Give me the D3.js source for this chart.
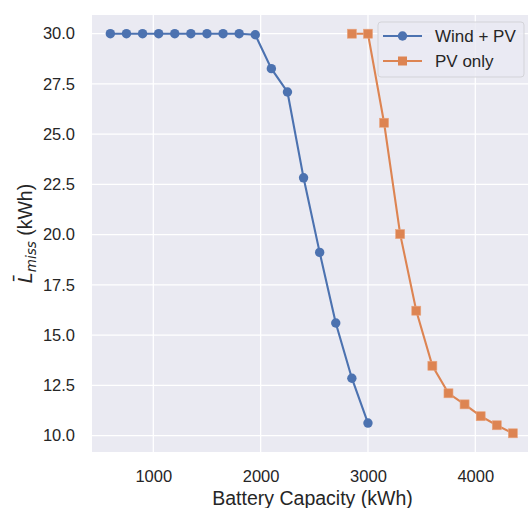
<!DOCTYPE html>
<html>
<head>
<meta charset="utf-8">
<script src="https://cdn.jsdelivr.net/npm/d3@7"></script>
<style>
  body { margin: 0; background: #fff; }
  text { font-family: "Liberation Sans", Arial, sans-serif; fill: #262626; }
</style>
</head>
<body>
<svg id="chart" width="528" height="508"></svg>
<script>
// values
const windX = [600, 750, 900, 1050, 1200, 1350, 1500, 1650, 1800, 1950, 2100, 2250, 2400, 2550, 2700, 2850, 3000];
const windY = [30, 30, 30, 30, 30, 30, 30, 30, 30, 29.95, 28.26, 27.1, 22.83, 19.12, 15.61, 12.86, 10.63];
const pvX = [2850, 3000, 3150, 3300, 3450, 3600, 3750, 3900, 4050, 4200, 4350];
const pvY = [30, 30, 25.57, 20.03, 16.22, 13.48, 12.11, 11.56, 10.97, 10.52, 10.12];
const xTicks = [1000, 2000, 3000, 4000];
const yTicks = [10, 12.5, 15, 17.5, 20, 22.5, 25, 27.5, 30];

const blue = "#4c72b0", orange = "#dd8452";

var svg = d3.select("#chart");
var pLeft = 92, pTop = 15, pRight = 533, pBottom = 452;

var x = d3.scaleLinear().domain([429, 4537.5]).range([pLeft, pRight]);
var y = d3.scaleLinear().domain([9.19, 30.93]).range([pBottom, pTop]);

svg.append("rect")
    .attr("x", pLeft).attr("y", pTop)
    .attr("width", pRight - pLeft).attr("height", pBottom - pTop)
    .attr("fill", "#eaeaf2");

// grid
svg.append("g").selectAll("line").data(xTicks).enter().append("line")
    .attr("x1", d => x(d)).attr("x2", d => x(d))
    .attr("y1", pTop).attr("y2", pBottom)
    .attr("stroke", "#fff").attr("stroke-width", 1.3);
svg.append("g").selectAll("line").data(yTicks).enter().append("line")
    .attr("x1", pLeft).attr("x2", pRight)
    .attr("y1", d => y(d)).attr("y2", d => y(d))
    .attr("stroke", "#fff").attr("stroke-width", 1.3);

// axes via d3 axis, with no domain line / tick marks
var xAxis = svg.append("g")
    .attr("transform", "translate(0," + pBottom + ")")
    .call(d3.axisBottom(x).tickValues(xTicks).tickSize(0).tickPadding(18).tickFormat(d3.format("d")));
var yAxis = svg.append("g")
    .attr("transform", "translate(" + pLeft + ",0)")
    .call(d3.axisLeft(y).tickValues(yTicks).tickSize(0).tickPadding(17).tickFormat(d3.format(".1f")));
[xAxis, yAxis].forEach(function(a) {
  a.select(".domain").remove();
  a.selectAll("text").attr("font-size", 16.5).attr("fill", "#262626")
    .attr("font-family", "'Liberation Sans', Arial, sans-serif");
});

svg.append("text")
    .attr("x", 312.5).attr("y", 505)
    .attr("text-anchor", "middle").attr("font-size", 19.5)
    .text("Battery Capacity (kWh)");

var yl = svg.append("text")
    .attr("transform", "translate(32," + ((pTop + pBottom) / 2) + ") rotate(-90)")
    .attr("text-anchor", "middle").attr("font-size", 19.5);
yl.append("tspan").attr("font-family", "DejaVu Sans").attr("font-style", "italic").text("L\u0304");
yl.append("tspan").attr("font-family", "DejaVu Sans").attr("font-style", "italic")
    .attr("font-size", 13.5).attr("dy", 4).text("miss");
yl.append("tspan").attr("dy", -4).text(" (kWh)");

var line = d3.line().x(d => x(d[0])).y(d => y(d[1]));
var windPts = windX.map((v, i) => [v, windY[i]]);
var pvPts = pvX.map((v, i) => [v, pvY[i]]);

svg.append("path").datum(windPts).attr("d", line)
    .attr("fill", "none").attr("stroke", blue).attr("stroke-width", 2.1);
svg.append("g").selectAll("circle").data(windPts).enter().append("circle")
    .attr("cx", d => x(d[0])).attr("cy", d => y(d[1])).attr("r", 4.7)
    .attr("fill", blue);

svg.append("path").datum(pvPts).attr("d", line)
    .attr("fill", "none").attr("stroke", orange).attr("stroke-width", 2.1);
svg.append("g").selectAll("rect").data(pvPts).enter().append("rect")
    .attr("x", d => x(d[0]) - 4.5).attr("y", d => y(d[1]) - 4.5)
    .attr("width", 9).attr("height", 9)
    .attr("fill", orange).attr("stroke", "#e9a47f").attr("stroke-width", 0.6);

// legend
var lg = svg.append("g");
lg.append("rect").attr("x", 378).attr("y", 22).attr("width", 146).attr("height", 55)
    .attr("rx", 3).attr("fill", "#eaeaf2").attr("fill-opacity", 0.8)
    .attr("stroke", "#d3d3d8").attr("stroke-width", 1);
var entries = [["Wind + PV", blue, "circle"], ["PV only", orange, "square"]];
entries.forEach(function(e, i) {
  var cy = 36 + i * 25;
  lg.append("line").attr("x1", 383).attr("x2", 422).attr("y1", cy).attr("y2", cy)
      .attr("stroke", e[1]).attr("stroke-width", 2.1);
  if (e[2] == "circle") {
    lg.append("circle").attr("cx", 402.5).attr("cy", cy).attr("r", 4.7).attr("fill", e[1]);
  } else {
    lg.append("rect").attr("x", 398).attr("y", cy - 4.5).attr("width", 9).attr("height", 9)
        .attr("fill", e[1]);
  }
  lg.append("text").attr("x", 435).attr("y", cy + 6).attr("font-size", 17).text(e[0]);
});
</script>
</body>
</html>
